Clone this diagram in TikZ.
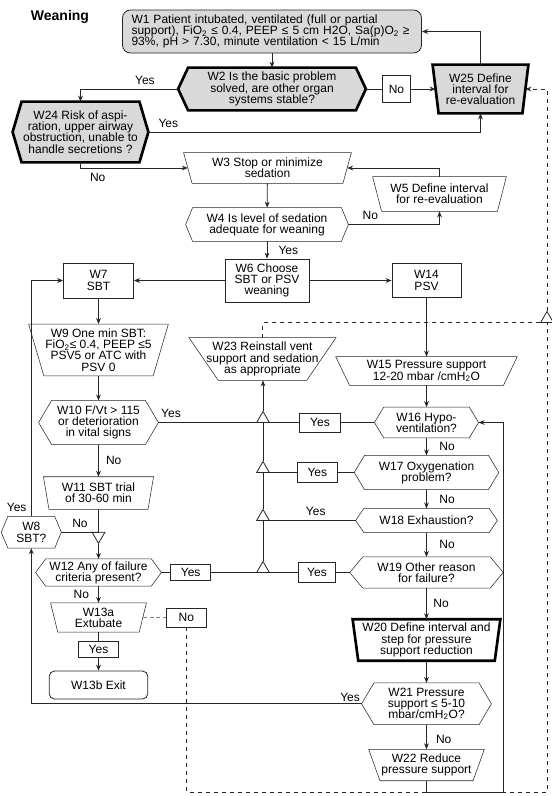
\documentclass[tikz,border=0pt]{standalone}
\usepackage{fontspec}
\setmainfont{Liberation Sans}
\usepackage{tikz}
\usetikzlibrary{arrows.meta,shapes,shapes.geometric,positioning,calc,backgrounds}
\definecolor{boxgray}{gray}{0.85}
\newcommand{\hexbox}[3][]{\draw[#1] (#2.west) -- ([xshift=#3]#2.north west) -- ([xshift=-#3]#2.north east) -- (#2.east) -- ([xshift=-#3]#2.south east) -- ([xshift=#3]#2.south west) -- cycle;}
\newcommand{\trapbox}[3][]{\draw[#1] ([xshift=-#3]#2.north west) -- ([xshift=#3]#2.north east) -- ([xshift=-#3]#2.south east) -- ([xshift=#3]#2.south west) -- cycle;}

\begin{document}
\lineskiplimit=-4pt
\begin{tikzpicture}[x=0.75pt,y=-0.75pt,>={Stealth[length=4.5pt,width=3.6pt]},line width=0.6pt,
  every node/.style={font=\fontsize{9pt}{8.4pt}\selectfont},
  txt/.style={inner sep=0pt,align=center},
  box/.style={draw=black!85,inner sep=0pt,align=center},
  jn/.style={regular polygon,regular polygon sides=3,draw=black!85,fill=white,inner sep=0pt,minimum size=11pt},
  ln/.style={draw=black!85},
  thk/.style={draw=black,line width=2pt},
  thn/.style={draw=black!85},
  dln/.style={draw=black!85,dashed}]
\useasboundingbox (0,0) rectangle (552,796);
\node[font=\bfseries\fontsize{10.5pt}{12pt}\selectfont] (title) at (60,17) {Weaning};
\node[box,fill=boxgray,rounded corners=6pt,align=left,text width=210.75pt,inner xsep=6.75pt,minimum height=32.25pt] (w1) at (272,31.5) {W1 Patient intubated, ventilated (full or partial\\support), FiO\textsubscript{2} ≤ 0.4, PEEP ≤ 5 cm H2O, Sa(p)O\textsubscript{2} ≥\\93\%, pH > 7.30,  minute ventilation < 15 L/min};
\node[txt,minimum width=140.25pt,minimum height=31.5pt] (w2) at (272,89) {W2 Is the basic problem\\solved, are other organ\\systems stable?};
\node[box,minimum width=20.7pt,minimum height=20pt] (no2) at (396.5,89) {No};
\node[txt,minimum width=66.75pt,minimum height=36pt] (w25) at (480.5,89) {W25 Define\\interval for\\re-evaluation};
\node[txt,minimum width=101.25pt,minimum height=45pt] (w24) at (80.5,132) {W24 Risk of aspi-\\ration, upper airway\\obstruction, unable to\\handle secretions ?};
\node[txt,minimum width=118.9pt,minimum height=22.5pt] (w3) at (267.5,168) {W3 Stop or minimize\\sedation};
\node[txt,minimum width=93pt,minimum height=25.5pt] (w5) at (439.5,194) {W5 Define interval\\for re-evaluation};
\node[txt,minimum width=121.5pt,minimum height=24.75pt] (w4) at (267,224.5) {W4 Is level of sedation\\adequate for weaning};
\node[box,minimum width=63pt,minimum height=32.25pt] (w6) at (267,280.5) {W6 Choose\\SBT or PSV\\weaning};
\node[box,minimum width=52.5pt,minimum height=26.25pt] (w7) at (98.5,280.5) {W7\\SBT};
\node[box,minimum width=51.75pt,minimum height=25.5pt] (w14) at (426.5,280.5) {W14\\PSV};
\node[txt,minimum width=92.8pt,minimum height=38.25pt] (w9) at (98.5,350) {W9 One min SBT:\\FiO\textsubscript{2}≤ 0.4, PEEP ≤5\\PSV5 or ATC with\\PSV 0};
\node[txt,minimum width=87.7pt,minimum height=31.5pt] (w23) at (262.5,359) {W23 Reinstall vent\\support and sedation\\as appropriate};
\node[jn] (jr) at (547,318.8) {};
\node[txt,minimum width=125.2pt,minimum height=21pt] (w15) at (426.5,371) {W15 Pressure support\\12-20 mbar /cmH\textsubscript{2}O};
\node[txt,minimum width=89.25pt,minimum height=32.5pt] (w10) at (98.5,422.5) {W10 F/Vt > 115\\or deterioration\\in vital signs};
\node[txt,minimum width=77.5pt,minimum height=22.5pt] (w16) at (426.5,422.5) {W16 Hypo-\\ventilation?};
\node[box,minimum width=30.2pt,minimum height=14.25pt] (yes16) at (320,422.5) {Yes};
\node[jn] (j16) at (263,418.8) {};
\node[txt,minimum width=107.8pt,minimum height=25pt] (w17) at (426.5,472.5) {W17 Oxygenation\\problem?};
\node[box,minimum width=30.5pt,minimum height=14.7pt] (yes17) at (317.3,472.5) {Yes};
\node[jn] (j17) at (263,468.8) {};
\node[txt,minimum width=77.85pt,minimum height=23.8pt] (w11) at (98.5,493) {W11 SBT trial\\of 30-60 min};
\node[txt,minimum width=105.75pt,minimum height=17.5pt] (w18) at (426.5,520.5) {W18 Exhaustion?};
\node[jn] (j18) at (263,516.8) {};
\node[txt,minimum width=44.5pt,minimum height=23.25pt] (w8) at (31.3,532.3) {W8\\SBT?};
\node[jn,rotate=180] (j11) at (98.5,536) {};
\node[txt,minimum width=93.75pt,minimum height=19.7pt] (w12) at (98.5,572.5) {W12 Any of failure\\criteria present?};
\node[box,minimum width=30pt,minimum height=11.8pt] (yes12) at (190.7,572.5) {Yes};
\node[jn] (j12) at (263,568.8) {};
\node[txt,minimum width=114.5pt,minimum height=22.8pt] (w19) at (426.5,572.5) {W19 Other reason\\for failure?};
\node[box,minimum width=27.5pt,minimum height=14.7pt] (yes19) at (317,572.5) {Yes};
\node[txt,minimum width=65.9pt,minimum height=21.3pt] (w13a) at (98.5,617.5) {W13a\\Extubate};
\node[box,minimum width=30.5pt,minimum height=14.25pt] (no13) at (186.3,617.5) {No};
\node[box,minimum width=30pt,minimum height=12pt] (yes13) at (98.5,649.7) {Yes};
\node[box,rounded corners=4pt,minimum width=74pt,minimum height=21pt] (w13b) at (98.5,685) {W13b Exit};
\node[txt,minimum width=106pt,minimum height=30.5pt] (w20) at (426.5,640) {W20 Define interval and\\step for pressure\\support reduction};
\node[txt,minimum width=96.75pt,minimum height=30.75pt] (w21) at (426.5,703.8) {W21 Pressure\\support ≤ 5-10\\mbar/cmH\textsubscript{2}O?};
\node[txt,minimum width=77.7pt,minimum height=23pt] (w22) at (426.5,765) {W22 Reduce\\pressure support};
\coordinate (loop) at (503,792);
\coordinate (cbr) at (547,792);
\begin{scope}[on background layer]
\hexbox[thk,fill=boxgray]{w2}{7.5pt}
\trapbox[thk,fill=boxgray]{w25}{2.25pt}
\hexbox[thk,fill=boxgray]{w24}{6.75pt}
\trapbox[thn]{w3}{3.2pt}
\trapbox[thn]{w5}{3.4pt}
\hexbox[thn]{w4}{5.25pt}
\trapbox[thn]{w9}{5.7pt}
\trapbox[thn]{w23}{11pt}
\trapbox[thn]{w15}{5.2pt}
\hexbox[thn]{w10}{9.75pt}
\hexbox[thn]{w16}{7pt}
\hexbox[thn]{w17}{7.7pt}
\trapbox[thn]{w11}{2.06pt}
\hexbox[thn]{w18}{6.2pt}
\hexbox[thn]{w8}{5pt}
\hexbox[thn]{w12}{7.5pt}
\hexbox[thn]{w19}{9.75pt}
\trapbox[thn]{w13a}{2.7pt}
\trapbox[thk]{w20}{2.1pt}
\hexbox[thn]{w21}{9.25pt}
\trapbox[thn]{w22}{4.25pt}
\end{scope}
\draw[ln,->] (w1) -- (w2);
\draw[ln,->] (w2.west) -| node[pos=0.17,above] {Yes} (w24.north);
\draw[ln] (w2) -- (no2);
\draw[ln,->] (no2) -- (w25);
\draw[ln,->] (w25.north) |- (w1.east);
\draw[ln,->] (w24.east) -| node[pos=0.03,above] {Yes} (w25.south);
\draw[ln,->] (w24.south) |- node[pos=0.58,below] {No} (w3.west);
\draw[ln,->] (w3) -- (w4);
\draw[ln,->] (w5.north) |- (w3.east);
\draw[ln,->] (w4.east) -| node[pos=0.12,above] {No} (w5.south);
\draw[ln,->] (w4) -- node[right=5pt] {Yes} (w6);
\draw[ln,->] (w6) -- (w7);
\draw[ln,->] (w6) -- (w14);
\draw[ln,->] (w7) -- (w9);
\draw[ln,->] (w9) -- (w10);
\draw[ln,->] (w10) -- node[right=2pt] {No} (w11);
\draw[ln] (w11) -- (j11.side 2);
\draw[ln,->] (j11.corner 1) -- (w12);
\draw[ln] (w8.east) -- node[above] {No} (w8.east -| j11);
\draw[ln,->] (w8.north) |- node[pos=0.02,left] {Yes} (w7.west);
\draw[ln,->] (w12) -- node[left=3.5pt] {No} (w13a);
\draw[ln] (w13a) -- (yes13);
\draw[ln,->] (yes13) -- (w13b);
\draw[thn,densely dashed,draw=black!50] (w13a) -- (no13);
\draw[dln] (no13) |- (cbr) -- (jr.side 2);
\draw[dln,->] (jr.corner 1) |- (w25.east);
\draw[dln] (w23.north) |- (jr.corner 2);
\draw[ln] (w10.east) -- node[pos=0.12,above] {Yes} (w10.east -| j16);
\draw[ln] (w16) -- (yes16);
\draw[ln] (yes16) -- (yes16 -| j16);
\draw[ln] (w17) -- (yes17);
\draw[ln] (yes17) -- (yes17 -| j17);
\draw[ln] (w18.west) -- node[pos=0.43,above] {Yes} (w18.west -| j18);
\draw[ln] (w19) -- (yes19);
\draw[ln] (yes19) -- (yes19 -| j12);
\draw[ln] (w12) -- (yes12);
\draw[ln] (yes12) -- (yes12 -| j12);
\draw[ln] (j12.corner 1) -- (j18.side 2) (j18.corner 1) -- (j17.side 2) (j17.corner 1) -- (j16.side 2);
\draw[ln,->] (j16.corner 1) -- (j16.corner 1 |- w23.south);
\draw[ln,->] (w14) -- (w15);
\draw[ln,->] (w15) -- (w16);
\draw[ln,->] (w16) -- node[right=6pt] {No} (w17);
\draw[ln,->] (w17) -- node[right=6pt] {No} (w18);
\draw[ln,->] (w18) -- node[right=6pt] {No} (w19);
\draw[ln,->] (w19) -- node[right=1.5pt] {No} (w20);
\draw[ln,->] (w20) -- (w21);
\draw[ln,->] (w21) -- node[right=3.5pt,pos=0.6] {No} (w22);
\draw[ln,->] (w21.west) -| node[pos=0,above left,inner sep=1pt] {Yes} (w8.south);
\draw[ln,->] (w22.south) |- (loop) |- (w16.east);
\end{tikzpicture}
\end{document}
